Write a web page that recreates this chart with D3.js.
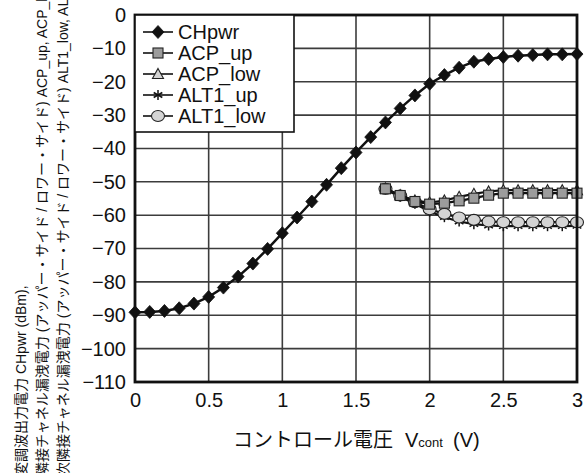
<!DOCTYPE html>
<html>
<head>
<meta charset="utf-8">
<script src="https://cdn.jsdelivr.net/npm/d3@7"></script>
<style>
  body { margin: 0; background: #fff; }
  svg { display: block; }
  text { font-family: "Liberation Sans", Arial, "Noto Sans CJK JP", sans-serif; fill: #111; }
</style>
</head>
<body>
<svg id="chart" width="587" height="473"></svg>
<script>
// Control voltage sweep for the carrier power (V)
const vcontCH = [0.0, 0.1, 0.2, 0.3, 0.4, 0.5, 0.6, 0.7, 0.8, 0.9, 1.0,
                 1.1, 1.2, 1.3, 1.4, 1.5, 1.6, 1.7, 1.8, 1.9, 2.0,
                 2.1, 2.2, 2.3, 2.4, 2.5, 2.6, 2.7, 2.8, 2.9, 3.0];
// Modulated carrier output power (dBm)
const chpwr = [-89.1, -89.0, -88.7, -87.9, -86.5, -84.5, -81.7, -78.4, -74.5, -70.1, -65.4,
               -60.7, -55.9, -50.9, -45.9, -41.2, -36.6, -32.2, -28.0, -24.1, -20.6,
               -18.0, -15.8, -14.0, -13.2, -12.6, -12.2, -12.0, -11.8, -11.8, -11.7];

// Control voltages where leakage power was measured (V)
const vcontAdj = [1.7, 1.8, 1.9, 2.0, 2.1, 2.2, 2.3, 2.4, 2.5, 2.6, 2.7, 2.8, 2.9, 3.0];
// Adjacent channel leakage power, upper / lower side (dBm)
const acpUp  = [-52.1, -54.1, -55.9, -56.7, -56.4, -55.7, -54.9, -54.0, -53.4, -53.4, -53.4, -53.4, -53.4, -53.4];
const acpLow = [-52.0, -54.0, -55.6, -56.2, -55.6, -54.5, -53.6, -52.9, -52.5, -52.5, -52.5, -52.5, -52.5, -52.5];
// Alternate channel leakage power, upper / lower side (dBm)
const alt1Up  = [-52.3, -54.5, -56.6, -58.9, -60.6, -61.9, -62.7, -63.1, -63.3, -63.3, -63.3, -63.3, -63.3, -63.2];
const alt1Low = [-52.1, -54.1, -56.1, -58.2, -59.6, -60.7, -61.4, -61.9, -62.1, -62.1, -62.1, -62.1, -62.1, -62.1];

const xTicks = [0, 0.5, 1, 1.5, 2, 2.5, 3];
const yTicks = [0, -10, -20, -30, -40, -50, -60, -70, -80, -90, -100, -110];
const seriesNames = ["CHpwr", "ACP_up", "ACP_low", "ALT1_up", "ALT1_low"];

const yTitleLines = [
  "変調波出力電力 CHpwr (dBm),",
  "隣接チャネル漏洩電力 (アッパー・サイド / ロワー・サイド) ACP_up, ACP_low",
  "次隣接チャネル漏洩電力 (アッパー・サイド / ロワー・サイド) ALT1_low, ALT1_up"
];

const svg = d3.select("#chart");
const plot = { left: 135, right: 577, top: 15, bottom: 382 };

const x = d3.scaleLinear().domain([0, 3]).range([plot.left, plot.right]);
const y = d3.scaleLinear().domain([-110, 0]).range([plot.bottom, plot.top]);

// Grid
const grid = svg.append("g").attr("stroke", "#3c3c3c").attr("stroke-width", 1.6);
grid.selectAll("line.gx").data(xTicks.slice(1, -1)).join("line")
  .attr("x1", d => x(d)).attr("x2", d => x(d))
  .attr("y1", plot.top).attr("y2", plot.bottom);
grid.selectAll("line.gy").data(yTicks.slice(1, -1)).join("line")
  .attr("x1", plot.left).attr("x2", plot.right)
  .attr("y1", d => y(d)).attr("y2", d => y(d));

// Axes (labels only, frame drawn separately)
const xAxis = svg.append("g")
  .attr("transform", `translate(0,${plot.bottom})`)
  .call(d3.axisBottom(x).tickValues(xTicks).tickSize(0).tickPadding(11)
        .tickFormat(d => String(d)));
const yAxis = svg.append("g")
  .attr("transform", `translate(${plot.left},0)`)
  .call(d3.axisLeft(y).tickValues(yTicks).tickSize(0).tickPadding(9)
        .tickFormat(d => d < 0 ? "\u2212" + Math.abs(d) : String(d)));
[xAxis, yAxis].forEach(a => {
  a.select(".domain").remove();
  a.selectAll("text").attr("font-size", 20).attr("fill", "#111")
    .attr("font-family", "'Liberation Sans', Arial, sans-serif");
});

// Marker shapes
function drawMarker(g, type, cx, cy) {
  if (type === "diamond") {
    g.append("path").attr("d", `M${cx},${cy - 6.5}L${cx + 6},${cy}L${cx},${cy + 6.5}L${cx - 6},${cy}Z`)
      .attr("fill", "#111").attr("stroke", "#111").attr("stroke-width", 0.8);
  } else if (type === "square") {
    g.append("rect").attr("x", cx - 5).attr("y", cy - 5).attr("width", 10).attr("height", 10)
      .attr("fill", "#9c9c9c").attr("stroke", "#222").attr("stroke-width", 1.1);
  } else if (type === "triangle") {
    g.append("path").attr("d", `M${cx},${cy - 5.5}L${cx + 5.5},${cy + 4.5}L${cx - 5.5},${cy + 4.5}Z`)
      .attr("fill", "#d4d4d4").attr("stroke", "#222").attr("stroke-width", 1.1);
  } else if (type === "star") {
    const r = 5;
    [90, 30, 150].forEach(a => {
      const dx = r * Math.cos(a * Math.PI / 180), dy = r * Math.sin(a * Math.PI / 180);
      g.append("line").attr("x1", cx - dx).attr("y1", cy - dy).attr("x2", cx + dx).attr("y2", cy + dy)
        .attr("stroke", "#111").attr("stroke-width", 1.5);
    });
  } else if (type === "ellipse") {
    g.append("ellipse").attr("cx", cx).attr("cy", cy).attr("rx", 6.5).attr("ry", 5.5)
      .attr("fill", "#d4d4d4").attr("stroke", "#222").attr("stroke-width", 1.1);
  }
}

const series = [
  { name: seriesNames[3], xs: vcontAdj, ys: alt1Up,  marker: "star",     width: 2.2 },
  { name: seriesNames[4], xs: vcontAdj, ys: alt1Low, marker: "ellipse",  width: 2.2 },
  { name: seriesNames[2], xs: vcontAdj, ys: acpLow,  marker: "triangle", width: 2.2 },
  { name: seriesNames[1], xs: vcontAdj, ys: acpUp,   marker: "square",   width: 2.2 },
  { name: seriesNames[0], xs: vcontCH,  ys: chpwr,   marker: "diamond",  width: 2.5 }
];

const line = d3.line().x(d => x(d[0])).y(d => y(d[1]));
series.forEach(s => {
  const pts = s.xs.map((v, i) => [v, s.ys[i]]);
  const g = svg.append("g");
  g.append("path").datum(pts).attr("d", line)
    .attr("fill", "none").attr("stroke", "#111").attr("stroke-width", s.width);
  pts.forEach(p => drawMarker(g, s.marker, x(p[0]), y(p[1])));
});

// Frame
svg.append("rect")
  .attr("x", plot.left).attr("y", plot.top)
  .attr("width", plot.right - plot.left).attr("height", plot.bottom - plot.top)
  .attr("fill", "none").attr("stroke", "#111").attr("stroke-width", 2.8);

// Legend
const legendMarkers = { CHpwr: "diamond", ACP_up: "square", ACP_low: "triangle", ALT1_up: "star", ALT1_low: "ellipse" };
const lg = svg.append("g");
lg.append("rect").attr("x", plot.left).attr("y", plot.top).attr("width", 159).attr("height", 117)
  .attr("fill", "#fff").attr("stroke", "#111").attr("stroke-width", 1.6);
seriesNames.forEach((n, i) => {
  const cy = 32 + i * 21;
  lg.append("line").attr("x1", 143).attr("x2", 173).attr("y1", cy).attr("y2", cy)
    .attr("stroke", "#111").attr("stroke-width", 1.6);
  drawMarker(lg, legendMarkers[n], 158, cy);
  lg.append("text").attr("x", 178).attr("y", cy + 7).attr("font-size", 20).text(n);
});

// X axis title
const xt = svg.append("text").attr("x", 233).attr("y", 447).attr("font-size", 20);
xt.append("tspan").attr("font-family", "'Noto Sans CJK JP', sans-serif").text("コントロール電圧");
xt.append("tspan").attr("x", 405).text("V");
xt.append("tspan").attr("font-size", 13).text("cont");
xt.append("tspan").attr("x", 453).text("(V)");

// Y axis title (three rotated lines)
yTitleLines.forEach((t, i) => {
  svg.append("text")
    .attr("transform", `translate(${26 + i * 21},476) rotate(-90)`)
    .attr("font-size", 14)
    .attr("font-family", "'Liberation Sans', 'Noto Sans CJK JP', sans-serif")
    .text(t);
});
</script>
</body>
</html>
